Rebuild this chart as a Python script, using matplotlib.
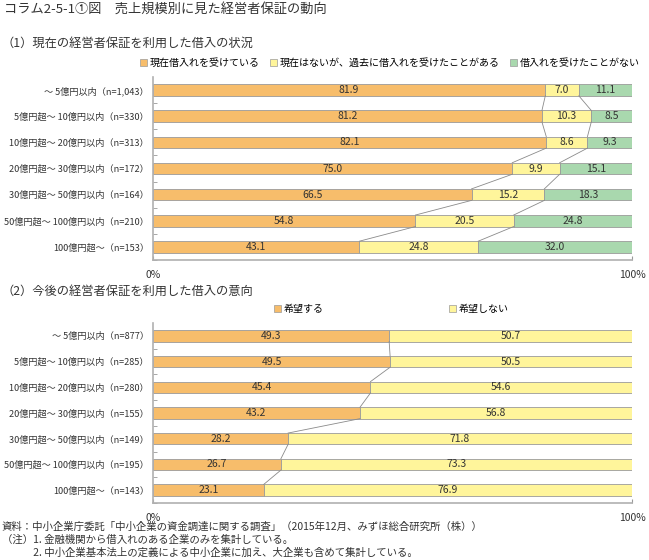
"""
コラム2-5-1①図 売上規模別に見た経営者保証の動向
"""

import numpy as np
import matplotlib
matplotlib.use("Agg")
import matplotlib.pyplot as plt
import matplotlib.patches as mpatches

plt.rcParams["font.family"] = ["Noto Sans CJK JP", "DejaVu Sans"]

# ── Data ───────────────────────────────────────────────────
labels_1 = ["～ 5億円以内（n=1,043）", "5億円超～ 10億円以内（n=330）",
            "10億円超～ 20億円以内（n=313）", "20億円超～ 30億円以内（n=172）",
            "30億円超～ 50億円以内（n=164）", "50億円超～ 100億円以内（n=210）",
            "100億円超～（n=153）"]
borrowing_now  = [81.9, 81.2, 82.1, 75.0, 66.5, 54.8, 43.1]
borrowed_past  = [7.0, 10.3, 8.6, 9.9, 15.2, 20.5, 24.8]
never_borrowed = [11.1, 8.5, 9.3, 15.1, 18.3, 24.8, 32.0]
series_1_names = ["現在借入れを受けている", "現在はないが、過去に借入れを受けたことがある",
                  "借入れを受けたことがない"]

labels_2 = ["～ 5億円以内（n=877）", "5億円超～ 10億円以内（n=285）",
            "10億円超～ 20億円以内（n=280）", "20億円超～ 30億円以内（n=155）",
            "30億円超～ 50億円以内（n=149）", "50億円超～ 100億円以内（n=195）",
            "100億円超～（n=143）"]
wish     = [49.3, 49.5, 45.4, 43.2, 28.2, 26.7, 23.1]
no_wish  = [50.7, 50.5, 54.6, 56.8, 71.8, 73.3, 76.9]
series_2_names = ["希望する", "希望しない"]

ORANGE = "#F7BD6B"; YELLOW = "#FFF59B"; GREEN = "#A9D8AE"
EDGE = "#9a9a9a"; LINE = "#8a8a8a"; TXT = "#333333"

W, H = 649, 560
fig = plt.figure(figsize=(W / 100, H / 100), dpi=100)


def px_axes(left, top, right, bottom):
    return fig.add_axes([left / W, 1 - bottom / H, (right - left) / W, (bottom - top) / H])


def stacked(ax, labels, series, colors):
    n = len(labels)
    y = np.arange(n)
    h = 0.44
    left = np.zeros(n)
    for vals, col in zip(series, colors):
        vals = np.array(vals)
        ax.barh(y, vals, left=left, height=h, color=col, edgecolor=EDGE, linewidth=0.6)
        for yi, l, v in zip(y, left, vals):
            ax.text(l + v / 2, yi, f"{v:.1f}", ha="center", va="center",
                    fontsize=7.5, color=TXT)
        left = left + vals
    # connector lines between bars
    cum = np.cumsum(np.array(series), axis=0)[:-1]
    for c in cum:
        for i in range(n - 1):
            ax.plot([c[i], c[i + 1]], [i + h / 2, i + 1 - h / 2], color=LINE, lw=0.6)
    ax.set_xlim(0, 100)
    ax.set_ylim(n - 0.5, -0.5)
    ax.set_yticks(y)
    ax.set_yticklabels(labels, fontsize=6.6, color=TXT)
    ax.set_yticks(np.arange(n) + 0.5, minor=True)
    ax.tick_params(axis="y", which="major", length=0, pad=3)
    ax.tick_params(axis="y", which="minor", length=3, direction="in", color="#999999")
    ax.set_xticks([0, 100])
    ax.set_xticklabels(["0%", "100%"], fontsize=7.5, color=TXT)
    ax.tick_params(axis="x", length=3, direction="in", color="#999999", pad=7)
    for s in ["top", "right"]:
        ax.spines[s].set_visible(False)
    for s in ["left", "bottom"]:
        ax.spines[s].set_color("#b0b0b0")
        ax.spines[s].set_linewidth(1.2)


# ── Titles ─────────────────────────────────────────────────
fig.text(4 / W, 1 - 9 / H, "コラム2-5-1①図　売上規模別に見た経営者保証の動向",
         fontsize=9.5, va="center", color=TXT)
fig.text(2 / W, 1 - 43 / H, "（1）現在の経営者保証を利用した借入の状況",
         fontsize=8.8, va="center", color=TXT)
fig.text(2 / W, 1 - 291 / H, "（2）今後の経営者保証を利用した借入の意向",
         fontsize=8.8, va="center", color=TXT)

# ── Chart 1 ────────────────────────────────────────────────
ax1 = px_axes(153, 77, 632, 260)
stacked(ax1, labels_1, [borrowing_now, borrowed_past, never_borrowed], [ORANGE, YELLOW, GREEN])
handles = [mpatches.Patch(facecolor=c, edgecolor=EDGE, lw=0.5, label=l)
           for c, l in zip([ORANGE, YELLOW, GREEN], series_1_names)]
fig.legend(handles=handles, loc="center right", bbox_to_anchor=(649 / W, 1 - 63 / H),
           ncol=3, frameon=False, fontsize=7.2, handlelength=0.7, handleheight=0.7,
           handletextpad=0.3, columnspacing=1.0)

# ── Chart 2 ────────────────────────────────────────────────
ax2 = px_axes(153, 323, 632, 503)
stacked(ax2, labels_2, [wish, no_wish], [ORANGE, YELLOW])
handles = [mpatches.Patch(facecolor=c, edgecolor=EDGE, lw=0.5, label=l)
           for c, l in zip([ORANGE, YELLOW], series_2_names)]
fig.legend(handles=handles, loc="center left", bbox_to_anchor=(265 / W, 1 - 309 / H),
           ncol=2, frameon=False, fontsize=7.2, handlelength=0.7, handleheight=0.7,
           handletextpad=0.3, columnspacing=12.5)

# ── Notes ──────────────────────────────────────────────────
notes = ["資料：中小企業庁委託「中小企業の資金調達に関する調査」（2015年12月、みずほ総合研究所（株））",
         "（注）1. 金融機関から借入れのある企業のみを集計している。",
         "　　　2. 中小企業基本法上の定義による中小企業に加え、大企業も含めて集計している。"]
for i, t in enumerate(notes):
    fig.text(2 / W, 1 - (527 + i * 13) / H, t, fontsize=7.5, va="center", color=TXT)

plt.savefig("out.png", dpi=100, facecolor="white")
plt.close()
